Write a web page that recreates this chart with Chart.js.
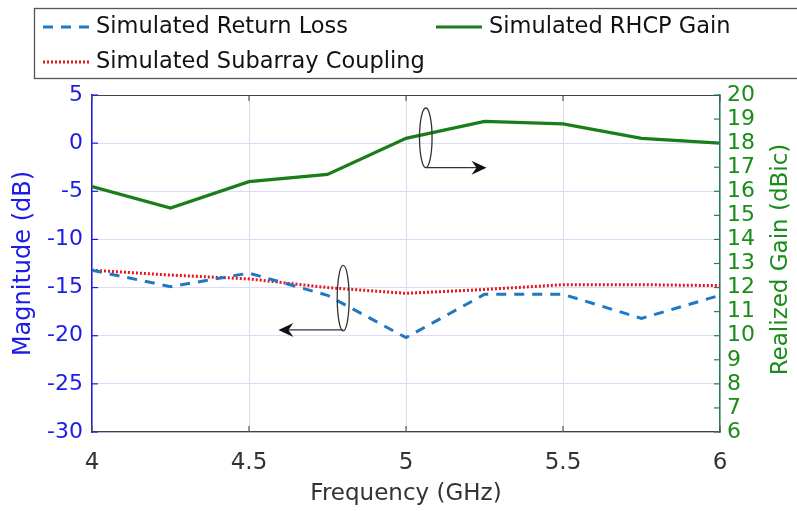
<!DOCTYPE html>
<html>
<head>
<meta charset="utf-8">
<script src="https://cdn.jsdelivr.net/npm/chart.js@4.4.1/dist/chart.umd.min.js"></script>
<style>
    html, body { margin: 0; padding: 0; background: #fff; }
</style>
</head>
<body>
<canvas id="myChart" width="797" height="511"></canvas>
<script>
// values
const frequencies = [4, 4.25, 4.5, 4.75, 5, 5.25, 5.5, 5.75, 6];
const returnLoss = [-13.2, -14.9, -13.5, -15.8, -20.2, -15.7, -15.7, -18.2, -15.8];
const subarrayCoupling = [-13.2, -13.7, -14.1, -15.0, -15.6, -15.2, -14.7, -14.7, -14.8];
const rhcpGain = [16.2, 15.3, 16.4, 16.7, 18.2, 18.9, 18.8, 18.2, 18.0];

const freqTicks = [4, 4.5, 5, 5.5, 6];
const magnitudeTicks = [5, 0, -5, -10, -15, -20, -25, -30];
const gainTicks = [20, 19, 18, 17, 16, 15, 14, 13, 12, 11, 10, 9, 8, 7, 6];

const FONT = "'DejaVu Sans', sans-serif";
const BLUE_AXIS = "#1c1ce6";
const GREEN_AXIS = "#1a8c1a";

const toPoints = (ys) => frequencies.map((f, i) => ({ x: f, y: ys[i] }));

const setTicks = (list) => (scale) => {
    scale.ticks = list.map(v => ({ value: v }));
};

// MATLAB style marks: ticks inside the box, top frame line, ellipses, legend
const extras = {
    id: "extras",
    afterDraw(chart) {
        const ctx = chart.ctx;
        const a = chart.chartArea;
        const xs = chart.scales.x, ys = chart.scales.y, y2 = chart.scales.y2;
        ctx.save();

        // top frame line
        ctx.strokeStyle = "#444";
        ctx.lineWidth = 1.2;
        ctx.beginPath();
        ctx.moveTo(a.left, a.top + 0.5);
        ctx.lineTo(a.right, a.top + 0.5);
        ctx.stroke();

        // inner ticks
        ctx.lineWidth = 1.2;
        ctx.strokeStyle = "#555";
        freqTicks.forEach(v => {
            const px = xs.getPixelForValue(v);
            ctx.beginPath();
            ctx.moveTo(px, a.bottom); ctx.lineTo(px, a.bottom - 6);
            ctx.moveTo(px, a.top); ctx.lineTo(px, a.top + 6);
            ctx.stroke();
        });
        ctx.strokeStyle = BLUE_AXIS;
        magnitudeTicks.forEach(v => {
            const py = ys.getPixelForValue(v);
            ctx.beginPath();
            ctx.moveTo(a.left, py); ctx.lineTo(a.left + 6, py);
            ctx.stroke();
        });
        ctx.strokeStyle = "#2b7a5c";
        gainTicks.forEach(v => {
            const py = y2.getPixelForValue(v);
            ctx.beginPath();
            ctx.moveTo(a.right, py); ctx.lineTo(a.right - 6, py);
            ctx.stroke();
        });

        // right axis title, read bottom to top like the left one
        ctx.save();
        ctx.translate(781, (a.top + a.bottom) / 2 - 4);
        ctx.rotate(-Math.PI / 2);
        ctx.font = "23px " + FONT;
        ctx.fillStyle = GREEN_AXIS;
        ctx.textAlign = "center";
        ctx.textBaseline = "middle";
        ctx.fillText("Realized Gain (dBic)", 0, 0);
        ctx.restore();

        // ellipse + arrow annotations
        const note = (cx, cy, rx, ry, ax, ay) => {
            const px = xs.getPixelForValue(cx), py = ys.getPixelForValue(cy);
            const rpx = Math.abs(xs.getPixelForValue(cx + rx) - px);
            const rpy = Math.abs(ys.getPixelForValue(cy + ry) - py);
            const x0 = px, y0 = ys.getPixelForValue(ay), x1 = xs.getPixelForValue(ax);
            ctx.strokeStyle = "#333";
            ctx.fillStyle = "#111";
            ctx.lineWidth = 1.3;
            ctx.beginPath();
            ctx.ellipse(px, py, rpx, rpy, 0, 0, Math.PI * 2);
            ctx.stroke();
            ctx.beginPath();
            ctx.moveTo(x0, y0); ctx.lineTo(x1, y0);
            ctx.stroke();
            const dir = Math.sign(x1 - x0);
            ctx.beginPath();
            ctx.moveTo(x1 + dir * 2, y0);
            ctx.lineTo(x1 - dir * 13, y0 - 7);
            ctx.lineTo(x1 - dir * 8, y0);
            ctx.lineTo(x1 - dir * 13, y0 + 7);
            ctx.closePath();
            ctx.fill();
        };
        note(5.063, 0.55, 0.02, 3.1, 5.25, -2.55);
        note(4.80, -16.1, 0.019, 3.4, 4.60, -19.4);

        // legend box
        ctx.strokeStyle = "#555";
        ctx.lineWidth = 1.3;
        ctx.strokeRect(34.5, 8.5, 800, 70);
        const items = [
            { ds: 0, x: 43, y: 27 },
            { ds: 2, x: 436, y: 27 },
            { ds: 1, x: 43, y: 62 }
        ];
        ctx.font = "22.5px " + FONT;
        ctx.textBaseline = "middle";
        items.forEach(it => {
            const d = chart.data.datasets[it.ds];
            ctx.strokeStyle = d.borderColor;
            ctx.lineWidth = d.borderWidth;
            ctx.setLineDash(d.borderDash || []);
            ctx.beginPath();
            ctx.moveTo(it.x, it.y); ctx.lineTo(it.x + 46, it.y);
            ctx.stroke();
            ctx.setLineDash([]);
            ctx.fillStyle = "#111";
            ctx.fillText(d.label, it.x + 53, it.y);
        });
        ctx.restore();
    }
};

new Chart("myChart", {
    type: "line",
    data: {
        datasets: [{
            label: "Simulated Return Loss",
            data: toPoints(returnLoss),
            borderColor: "#1f78c0",
            borderWidth: 3,
            borderDash: [10, 8],
            yAxisID: "y"
        }, {
            label: "Simulated Subarray Coupling",
            data: toPoints(subarrayCoupling),
            borderColor: "#e8141e",
            borderWidth: 3,
            borderDash: [2, 2],
            yAxisID: "y"
        }, {
            label: "Simulated RHCP Gain",
            data: toPoints(rhcpGain),
            borderColor: "#1a7d1a",
            borderWidth: 3.2,
            yAxisID: "y2"
        }]
    },
    options: {
        responsive: false,
        animation: false,
        elements: { point: { radius: 0 }, line: { tension: 0 } },
        layout: { padding: { top: 95, left: 0, right: 0, bottom: 0 } },
        plugins: {
            legend: { display: false },
            tooltip: { enabled: false }
        },
        scales: {
            x: {
                type: "linear",
                min: 4,
                max: 6,
                afterBuildTicks: setTicks(freqTicks),
                afterFit: (s) => { s.height = 79; },
                grid: { color: "#dcdce6", lineWidth: 1, drawTicks: false },
                border: { color: "#444", width: 1.2 },
                ticks: {
                    autoSkip: false,
                    maxRotation: 0,
                    padding: 17,
                    color: "#333",
                    font: { family: FONT, size: 23 },
                    callback: (v) => String(v)
                },
                title: {
                    display: true,
                    text: "Frequency (GHz)",
                    color: "#333",
                    font: { family: FONT, size: 23 },
                    padding: { top: 0, bottom: 3 }
                }
            },
            y: {
                position: "left",
                min: -30,
                max: 5,
                afterBuildTicks: setTicks(magnitudeTicks),
                afterFit: (s) => { s.width = 92; },
                grid: { color: "#dcdcf8", lineWidth: 1, drawTicks: false },
                border: { color: BLUE_AXIS, width: 1.5 },
                ticks: {
                    autoSkip: false,
                    padding: 9,
                    color: BLUE_AXIS,
                    font: { family: FONT, size: 22 }
                },
                title: {
                    display: true,
                    text: "Magnitude (dB)",
                    color: BLUE_AXIS,
                    font: { family: FONT, size: 24 },
                    padding: { top: 9, bottom: 0 }
                }
            },
            y2: {
                position: "right",
                min: 6,
                max: 20,
                afterBuildTicks: setTicks(gainTicks),
                afterFit: (s) => { s.width = 77; },
                grid: { display: false, drawTicks: false },
                border: { color: "#2b7a5c", width: 1.5 },
                ticks: {
                    autoSkip: false,
                    padding: 7,
                    color: GREEN_AXIS,
                    font: { family: FONT, size: 22 }
                }
            }
        }
    },
    plugins: [extras]
});
</script>
</body>
</html>
